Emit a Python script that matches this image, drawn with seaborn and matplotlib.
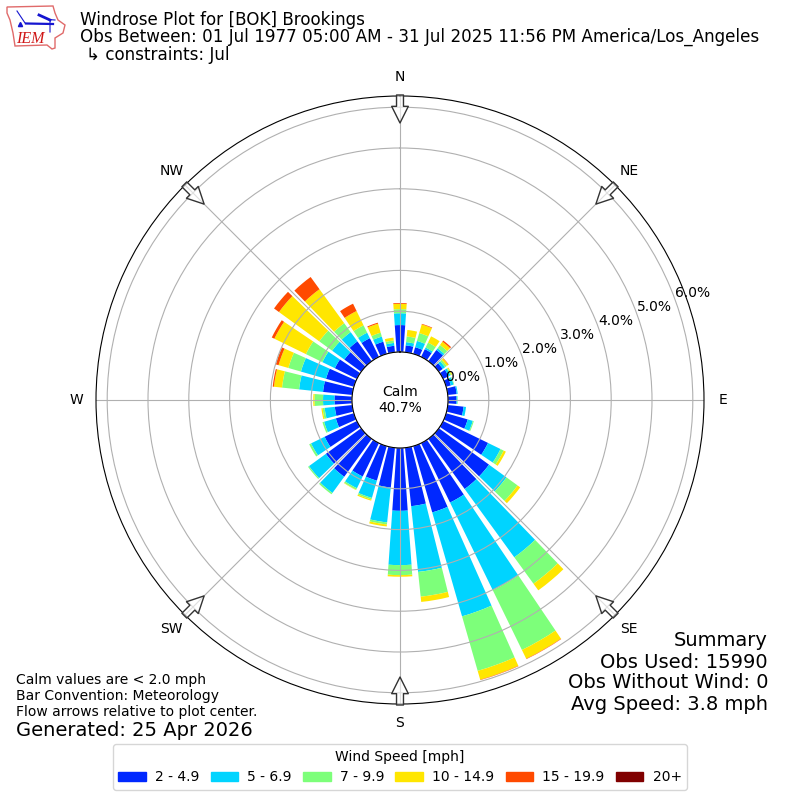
import numpy as np
import matplotlib
matplotlib.use("Agg")
import matplotlib.pyplot as plt
from matplotlib.patches import Patch, Polygon
from matplotlib.lines import Line2D
import seaborn as sns

directions = list(range(0, 360, 10))
speed_labels = ["2 - 4.9", "5 - 6.9", "7 - 9.9", "10 - 14.9", "15 - 19.9", "20+"]
speed_colors = ["#0028ff", "#00d4ff", "#7dff7a", "#ffe600", "#ff4a00", "#800000"]
pct_2_5 = [.66,.17,.17,.21,.34,.12,.15,.12,.22,.21,.39,.55,1.225,1.52,1.52,1.62,1.69,1.44,1.54,.98,.88,.91,1.15,1.07,.88,.46,.43,.43,.72,.71,.60,.51,.60,.51,.31,.16]
pct_5_7 = [.29,.08,.16,.045,.05,.07,.05,.07,.025,.02,.06,.13,.34,.53,2.07,2.39,2.65,1.62,1.33,.86,.44,.32,.49,.51,.37,.30,.25,.28,.59,.64,.34,.37,.28,.15,.13,.07]
pct_7_10 = [.10,.14,.20,.135,.10,.05,.025,.015,0,.01,0,.025,.085,.335,.80,1.63,1.39,.61,.245,.05,.04,.04,.04,.03,.05,.04,.05,.21,.42,.32,.45,.39,.27,.20,.10,.06]
pct_10_15 = [.13,.16,.22,.17,.10,.05,.025,0,0,0,0,0,.06,.08,.20,.24,.225,.13,.04,.05,.03,.01,0,0,0,0,.03,.03,.20,.25,.86,1.22,1.03,.39,.23,.07]
pct_15_20 = [.02,0,.015,0,.035,.01,0,0,0,0,0,0,0,0,0,.01,.01,0,0,0,0,0,0,0,0,0,0,0,.03,.07,.07,.15,.37,.20,.025,0]
pct_20up = [0]*36
series = [pct_2_5, pct_5_7, pct_7_10, pct_10_15, pct_15_20, pct_20up]
radial_ticks = [0, 1, 2, 3, 4, 5, 6]
compass = ["N", "NE", "E", "SE", "S", "SW", "W", "NW"]
compass_deg = [0, 45, 90, 135, 180, 225, 270, 315]

title_lines = ["Windrose Plot for [BOK] Brookings",
               "Obs Between: 01 Jul 1977 05:00 AM - 31 Jul 2025 11:56 PM America/Los_Angeles",
               "\u21b3 constraints: Jul"]
notes = ["Calm values are < 2.0 mph", "Bar Convention: Meteorology", "Flow arrows relative to plot center."]
summary = ["Summary", "Obs Used: 15990", "Obs Without Wind: 0", "Avg Speed: 3.8 mph"]

sns.reset_orig()
fig = plt.figure(figsize=(8, 8), dpi=100)
ax = fig.add_axes([96/800, 96/800, 608/800, 608/800], projection="polar")
ax.set_theta_zero_location("N")
ax.set_theta_direction(-1)

theta = np.deg2rad(directions)
base = np.zeros(36)
for vals, col in zip(series, speed_colors):
    vals = np.array(vals, dtype=float)
    sns.barplot(x=theta, y=vals, bottom=base, native_scale=True, width=0.8, color=col,
                saturation=1, errorbar=None, linewidth=0, legend=False, ax=ax)
    base = base + vals

ax.set_xlabel("")
ax.set_ylabel("")
ax.set_xlim(0, 2*np.pi)
rmax = (304-48)/40.8
ax.set_rorigin(-48/40.8)
ax.set_ylim(0, rmax)
ax.set_xticks(np.deg2rad(compass_deg))
ax.set_xticklabels(compass, fontsize=10)
ax.tick_params(axis="x", pad=3.5)
ax.set_yticks(radial_ticks)
ax.set_yticklabels([f"{v:.1f}%" for v in radial_ticks], fontsize=10)
ax.set_rlabel_position(70)
ax.grid(True, color="#b0b0b0", lw=0.8)
ax.set_axisbelow("line")

for d in compass_deg:
    ax.annotate("", xy=(np.deg2rad(d), (277-48)/40.8), xytext=(np.deg2rad(d), (305-48)/40.8),
                arrowprops=dict(width=5, headwidth=12, headlength=12, shrink=0,
                                fc=(1, 1, 1, 0.6), ec="#333333", lw=1), zorder=6)

fig.text(0.5, 0.5, "Calm\n40.7%", ha="center", va="center", fontsize=10, linespacing=1.15)

for s, y in zip(title_lines, [25, 41.5, 60.5]):
    x = 80 if not s.startswith("\u21b3") else 86
    fig.text(x/800, 1-y/800, s, ha="left", va="baseline", fontsize=12.03)

for s, y in zip(notes, [680, 696, 712]):
    fig.text(16/800, 1-y/800, s, ha="left", va="center", fontsize=10)
fig.text(16/800, 1-730/800, "Generated: 25 Apr 2026", ha="left", va="center", fontsize=14)
for s, y in zip(summary, [640, 662, 683, 705]):
    fig.text(768/800, 1-y/800, s, ha="right", va="center", fontsize=14)

handles = [Patch(color=c, label=l) for c, l in zip(speed_colors, speed_labels)]
fig.legend(handles=handles, title="Wind Speed [mph]", ncol=6, loc="lower center",
           bbox_to_anchor=(0.5, 1-790/800), fontsize=10, title_fontsize=10,
           borderaxespad=0, columnspacing=0.8, handletextpad=0.65)

# IEM logo
lax = fig.add_axes([0, 1-60/800, 80/800, 60/800])
lax.set_xlim(0, 80); lax.set_ylim(60, 0); lax.axis("off")
iowa_x = [7, 53, 55, 58, 65, 63, 55, 55, 52, 47, 15, 13, 10, 7, 7]
iowa_y = [7, 6, 13, 20, 25, 33, 38, 48, 49, 45, 46, 33, 20, 13, 7]
lax.add_patch(Polygon(np.c_[iowa_x, iowa_y], closed=True, fc="none", ec="#e06a6a", lw=1))
lax.add_line(Line2D([26, 53], [23.5, 24], color="#1515d0", lw=1.6))
lax.add_line(Line2D([39, 50], [15, 20], color="#1515d0", lw=2))
lax.add_line(Line2D([17, 25], [11, 23], color="#1515d0", lw=0.8))
lax.add_line(Line2D([50, 50, 48, 55], [32, 20, 19.5, 20], color="#1515d0", lw=0.8))
lax.add_line(Line2D([20], [24], color="#1515d0", marker="^", ms=3, ls="none"))
lax.text(16.5, 39, "IEM", color="#d01818", family="Liberation Serif", style="italic", fontsize=11.5, va="center")

fig.savefig("out.png", dpi=100)
